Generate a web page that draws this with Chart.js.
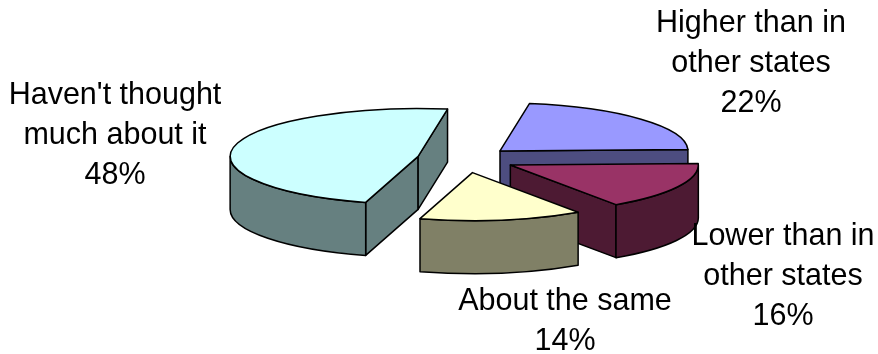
<!DOCTYPE html>
<html>
<head>
<meta charset="utf-8">
<style>html,body{margin:0;padding:0;background:#fff}canvas{display:block}</style>
<script src="https://cdn.jsdelivr.net/npm/chart.js@4/dist/chart.umd.js"></script>
</head>
<body>
<canvas id="c" width="878" height="354"></canvas>
<script>
const categories = ["Higher than in other states", "Lower than in other states", "About the same", "Haven't thought much about it"];
const values = [22, 16, 14, 48];
const topColors = ["#9999ff", "#993366", "#ffffcc", "#ccffff"];
const wallColors = ["#4d4d80", "#4d1a33", "#808066", "#668080"];
const explode = [48, 52, 54, 47];
const labelLines = [["Higher than in", "other states"], ["Lower than in", "other states"], ["About the same"], ["Haven't thought", "much about it"]];
const labelCenters = [[751, 24], [783, 237], [565, 302], [115, 96]];
const paintOrder = [0, 1, 3, 2];
const SQUASH = 0.255, DEPTH = 53, LINE_H = 40;

const pie3d = {
  id: 'pie3d',
  beforeDatasetDraw() { return false; },
  afterDatasetsDraw(chart) {
    const ctx = chart.ctx;
    const arcs = chart.getDatasetMeta(0).data;
    ctx.save();
    ctx.strokeStyle = '#000';
    ctx.lineWidth = 1.5;
    ctx.lineJoin = 'round';
    paintOrder.forEach(i => {
      const p = arcs[i].getProps(['x', 'y', 'startAngle', 'endAngle', 'outerRadius'], true);
      const s = p.startAngle, e = p.endAngle, R = p.outerRadius, ry = R * SQUASH;
      const mid = (s + e) / 2, off = arcs[i].options.offset;
      const ax = p.x + Math.cos(mid) * off, ay = p.y + Math.sin(mid) * off * SQUASH;
      const pt = a => [ax + Math.cos(a) * R, ay + Math.sin(a) * ry];
      const shape = draw => { ctx.beginPath(); draw(); ctx.closePath(); ctx.fill(); ctx.stroke(); };
      ctx.fillStyle = wallColors[i];
      const face = a => {
        const q = pt(a);
        shape(() => {
          ctx.moveTo(ax, ay); ctx.lineTo(q[0], q[1]);
          ctx.lineTo(q[0], q[1] + DEPTH); ctx.lineTo(ax, ay + DEPTH);
        });
      };
      if (-Math.cos(s) > 0) face(s);
      if (Math.cos(e) > 0) face(e);
      // outer wall: only the part of the rim on the near half of the ellipse
      const twoPi = Math.PI * 2;
      const k = Math.ceil(s / twoPi - 1);
      for (let n = k; n <= k + 2; n++) {
        const a0 = Math.max(s, n * twoPi), a1 = Math.min(e, n * twoPi + Math.PI);
        if (a1 > a0) {
          shape(() => {
            ctx.ellipse(ax, ay, R, ry, 0, a0, a1, false);
            ctx.ellipse(ax, ay + DEPTH, R, ry, 0, a1, a0, true);
          });
        }
      }
      ctx.fillStyle = arcs[i].options.backgroundColor;
      shape(() => {
        ctx.moveTo(ax, ay);
        ctx.ellipse(ax, ay, R, ry, 0, s, e, false);
      });
    });
    ctx.fillStyle = '#000';
    ctx.font = '30.5px "Liberation Sans", Arial, sans-serif';
    ctx.textAlign = 'center';
    ctx.textBaseline = 'middle';
    categories.forEach((c, i) => {
      const lines = labelLines[i].concat(values[i] + '%');
      lines.forEach((t, j) => ctx.fillText(t, labelCenters[i][0], labelCenters[i][1] + j * LINE_H));
    });
    ctx.restore();
  }
};

new Chart(document.getElementById('c'), {
  type: 'pie',
  data: {
    labels: categories,
    datasets: [{
      data: values,
      backgroundColor: topColors,
      offset: explode,
      borderWidth: 0,
      radius: 188,
      rotation: 9
    }]
  },
  options: {
    responsive: false,
    animation: false,
    layout: { padding: { left: 50, bottom: 36 } },
    plugins: { legend: { display: false }, tooltip: { enabled: false } }
  },
  plugins: [pie3d]
});
</script>
</body>
</html>
